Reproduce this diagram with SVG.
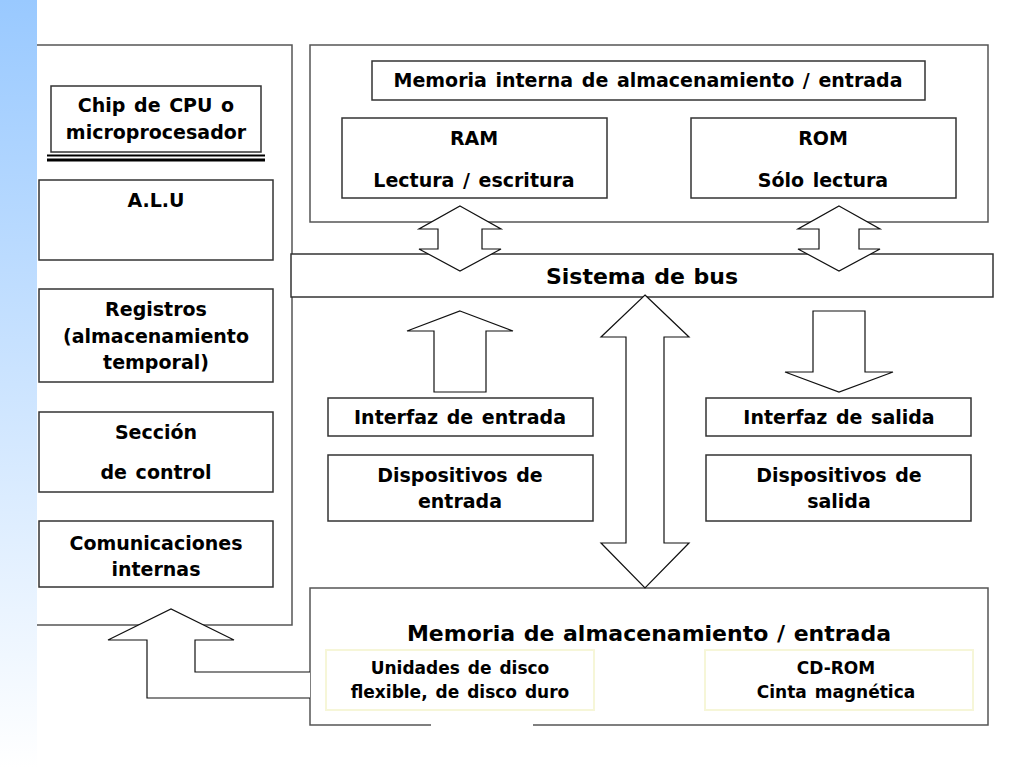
<svg xmlns="http://www.w3.org/2000/svg" width="1024" height="768" viewBox="0 0 1024 768">
<defs>
<linearGradient id="bar" x1="0" y1="0" x2="0" y2="1">
<stop offset="0" stop-color="#99c9ff"/>
<stop offset="1" stop-color="#ffffff"/>
</linearGradient>
<style>
.box{fill:#fff;stroke:#333;stroke-width:1.5}
.cont{fill:none;stroke:#555;stroke-width:1.5}
.soft{fill:#fff;stroke:#f6f6d8;stroke-width:2}
.arr{fill:#fff;stroke:#111;stroke-width:1.2;stroke-linejoin:miter}
text{font-family:"DejaVu Sans","Liberation Sans",sans-serif;font-weight:bold;fill:#000;text-anchor:middle;dominant-baseline:central}
.t{font-size:19px;word-spacing:2px}
.s{font-size:17px;word-spacing:2px}
.l{font-size:22px;word-spacing:1px}
</style>
</defs>
<rect width="1024" height="768" fill="#fff"/>
<rect x="0" y="0" width="37" height="768" fill="url(#bar)"/>

<g id="cpu-container">
<path class="cont" d="M37,45 H292 V625 H37"/>
</g>
<g id="chip">
<rect class="box" x="51" y="86" width="210" height="66"/>
<text class="t" x="156" y="105">Chip de CPU o</text>
<text class="t" x="156" y="132">microprocesador</text>
<line x1="47" y1="155.5" x2="265" y2="155.5" stroke="#000" stroke-width="2"/>
<line x1="47" y1="160" x2="265" y2="160" stroke="#000" stroke-width="3"/>
</g>
<g id="alu">
<rect class="box" x="39" y="180" width="234" height="80"/>
<text class="t" x="156" y="200">A.L.U</text>
</g>
<g id="registros">
<rect class="box" x="39" y="289" width="234" height="93"/>
<text class="t" x="156" y="309">Registros</text>
<text class="t" x="156" y="336">(almacenamiento</text>
<text class="t" x="156" y="362">temporal)</text>
</g>
<g id="control">
<rect class="box" x="39" y="412" width="234" height="80"/>
<text class="t" x="156" y="432">Sección</text>
<text class="t" x="156" y="472">de control</text>
</g>
<g id="comunicaciones">
<rect class="box" x="39" y="521" width="234" height="66"/>
<text class="t" x="156" y="543">Comunicaciones</text>
<text class="t" x="156" y="569">internas</text>
</g>

<g id="memoria-interna">
<rect class="cont" x="310" y="45" width="678" height="177"/>
<rect class="box" x="372" y="61" width="553" height="39"/>
<text class="t" x="648" y="80">Memoria interna de almacenamiento / entrada</text>
</g>
<g id="ram">
<rect class="box" x="342" y="118" width="265" height="80"/>
<text class="t" x="474" y="138">RAM</text>
<text class="t" x="474" y="180">Lectura / escritura</text>
</g>
<g id="rom">
<rect class="box" x="691" y="118" width="265" height="80"/>
<text class="t" x="823" y="138">ROM</text>
<text class="t" x="823" y="180">Sólo lectura</text>
</g>

<g id="bus">
<rect class="box" x="291" y="254" width="702" height="43"/>
<text class="l" x="642" y="276">Sistema de bus</text>
</g>

<g id="interfaz-entrada">
<rect class="box" x="328" y="398" width="265" height="38"/>
<text class="t" x="460" y="417">Interfaz de entrada</text>
</g>
<g id="dispositivos-entrada">
<rect class="box" x="328" y="455" width="265" height="66"/>
<text class="t" x="460" y="475">Dispositivos de</text>
<text class="t" x="460" y="501">entrada</text>
</g>
<g id="interfaz-salida">
<rect class="box" x="706" y="398" width="265" height="38"/>
<text class="t" x="839" y="417">Interfaz de salida</text>
</g>
<g id="dispositivos-salida">
<rect class="box" x="706" y="455" width="265" height="66"/>
<text class="t" x="839" y="475">Dispositivos de</text>
<text class="t" x="839" y="501">salida</text>
</g>

<g id="memoria-almacenamiento">
<rect x="310" y="588" width="678" height="137" fill="#fff"/>
<path class="cont" d="M431,725 H310 V588 H988 V725 H533"/>
<text class="l" x="649" y="633">Memoria de almacenamiento / entrada</text>
<rect class="soft" x="326" y="650" width="268" height="60"/>
<text class="s" x="460" y="668">Unidades de disco</text>
<text class="s" x="460" y="692">flexible, de disco duro</text>
<rect class="soft" x="705" y="650" width="268" height="60"/>
<text class="s" x="836" y="668">CD-ROM</text>
<text class="s" x="836" y="692">Cinta magnética</text>
</g>

<g id="connectors">
<polygon class="arr" points="460,206 501,229 482,229 482,249 501,249 460,271 419,249 438,249 438,229 419,229"/>
<polygon class="arr" points="839,206 880,229 859,229 859,249 880,249 839,271 798,249 819,249 819,229 798,229"/>
<polygon class="arr" points="460,311 513,331 486,331 486,392 434,392 434,331 407,331"/>
<polygon class="arr" points="813,311 865,311 865,372 893,372 839,392 785,372 813,372"/>
<polygon class="arr" points="645,295 689,337 664,337 664,543 689,543 645,588 601,543 626,543 626,337 601,337"/>
<path class="arr" d="M310,672 H195 V640 H234 L171,609 L108,640 H147 V698 H310"/>
</g>
</svg>
